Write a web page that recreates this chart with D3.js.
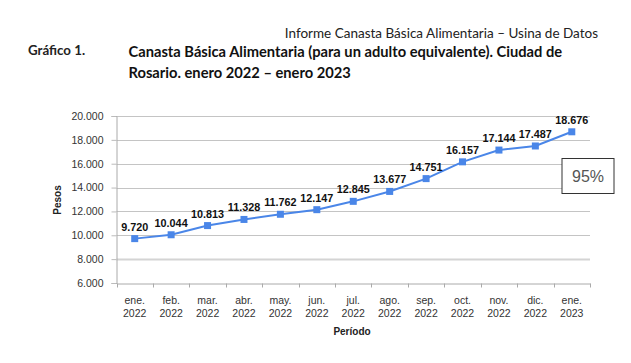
<!DOCTYPE html>
<html><head><meta charset="utf-8">
<script src="https://cdn.jsdelivr.net/npm/d3@7"></script>
<style>body{margin:0;background:#fff}svg{display:block}</style>
</head><body>
<script>
const months = ["ene.","feb.","mar.","abr.","may.","jun.","jul.","ago.","sep.","oct.","nov.","dic.","ene."];
const years = ["2022","2022","2022","2022","2022","2022","2022","2022","2022","2022","2022","2022","2023"];
const values = [9720,10044,10813,11328,11762,12147,12845,13677,14751,16157,17144,17487,18676];
const valueLabels = ["9.720","10.044","10.813","11.328","11.762","12.147","12.845","13.677","14.751","16.157","17.144","17.487","18.676"];
const yTicks = [6000,8000,10000,12000,14000,16000,18000,20000];
const yTickLabels = ["6.000","8.000","10.000","12.000","14.000","16.000","18.000","20.000"];
const headerText = "Informe Canasta Básica Alimentaria – Usina de Datos";
const figLabel = "Gráfico 1.";
const titleLines = ["Canasta Básica Alimentaria (para un adulto equivalente). Ciudad de","Rosario. enero 2022 – enero 2023"];
const boxText = "95%";

const W=631,H=363;
const svg=d3.select("body").append("svg").attr("width",W).attr("height",H);
const cats = months.map((m,i)=>i);
const x=d3.scaleBand().domain(cats).range([116.5,590]);
const y=d3.scaleLinear().domain([6000,20000]).range([283,116]);
const font="'Liberation Sans', Arial, sans-serif";
const tfont="Lato, 'Open Sans', sans-serif";

svg.append("text").attr("x",598).attr("y",38).attr("text-anchor","end")
  .attr("font-family",tfont).attr("font-size",13.5).attr("fill","#222").text(headerText);
svg.append("text").attr("x",28).attr("y",55).attr("font-family",tfont).attr("font-weight","bold")
  .attr("font-size",13.3).attr("fill","#222").text(figLabel);
titleLines.forEach((t,i)=>svg.append("text").attr("x",128.5).attr("y",56.5+i*21)
  .attr("font-family",tfont).attr("font-weight","bold").attr("font-size",14.7).attr("fill","#111").text(t));

// gridlines
svg.append("g").selectAll("line").data(yTicks.slice(1)).join("line")
  .attr("x1",116.5).attr("x2",590).attr("y1",d=>Math.round(y(d))+0.5).attr("y2",d=>Math.round(y(d))+0.5)
  .attr("stroke",d=>d===8000?"#d4d4d4":"#c4c4c4").attr("stroke-width",d=>d===8000?2:1);

// y axis
const ya=svg.append("g").attr("transform","translate(116.5,0)")
  .call(d3.axisLeft(y).tickValues(yTicks).tickFormat((d,i)=>yTickLabels[i]).tickSize(5).tickPadding(8));
ya.select(".domain").attr("stroke","#aaa");
ya.selectAll(".tick line").attr("stroke","#bbb");
ya.selectAll("text").attr("font-family",font).attr("font-size",10.5).attr("fill","#333");

// x axis
const xa=svg.append("g").attr("transform","translate(0,283.5)")
  .call(d3.axisBottom(x).tickValues([]).tickSizeOuter(0));
xa.select(".domain").attr("stroke","#aaa");
svg.append("g").selectAll("line").data(d3.range(cats.length+1)).join("line")
  .attr("x1",i=>Math.round(116.5+i*x.step())+0.5).attr("x2",i=>Math.round(116.5+i*x.step())+0.5)
  .attr("y1",283.5).attr("y2",287.5).attr("stroke","#aaa");
const xl=svg.append("g").attr("font-family",font).attr("font-size",10.5).attr("fill","#333").attr("text-anchor","middle");
cats.forEach(i=>{
  const cx=x(i)+x.bandwidth()/2;
  xl.append("text").attr("x",cx).attr("y",303.5).text(months[i]);
  xl.append("text").attr("x",cx).attr("y",316.5).text(years[i]);
});

svg.append("text").attr("transform","translate(61,200) rotate(-90)").attr("text-anchor","middle")
  .attr("font-family",font).attr("font-weight","bold").attr("font-size",10).attr("fill","#222").text("Pesos");
svg.append("text").attr("x",352).attr("y",335).attr("text-anchor","middle")
  .attr("font-family",font).attr("font-weight","bold").attr("font-size",10).attr("fill","#222").text("Período");

// line
const cx=i=>x(i)+x.bandwidth()/2;
svg.append("path").datum(values).attr("fill","none").attr("stroke","#4a86e8").attr("stroke-width",2)
  .attr("d",d3.line().x((d,i)=>cx(i)).y(d=>y(d)));
svg.append("g").selectAll("rect").data(values).join("rect")
  .attr("x",(d,i)=>cx(i)-3.5).attr("y",d=>y(d)-3.5).attr("width",7).attr("height",7).attr("fill","#4a86e8");
svg.append("g").selectAll("text").data(values).join("text")
  .attr("x",(d,i)=>cx(i)).attr("y",d=>y(d)-8).attr("text-anchor","middle")
  .attr("font-family",font).attr("font-weight","bold").attr("font-size",10.8).attr("fill","#111")
  .text((d,i)=>valueLabels[i]);

// box
svg.append("rect").attr("x",562).attr("y",158.5).attr("width",52).attr("height",35)
  .attr("fill","#fff").attr("stroke","#333").attr("stroke-width",1);
svg.append("text").attr("x",588).attr("y",182).attr("text-anchor","middle")
  .attr("font-family",font).attr("font-size",16).attr("fill","#555").text(boxText);
</script>
</body></html>
